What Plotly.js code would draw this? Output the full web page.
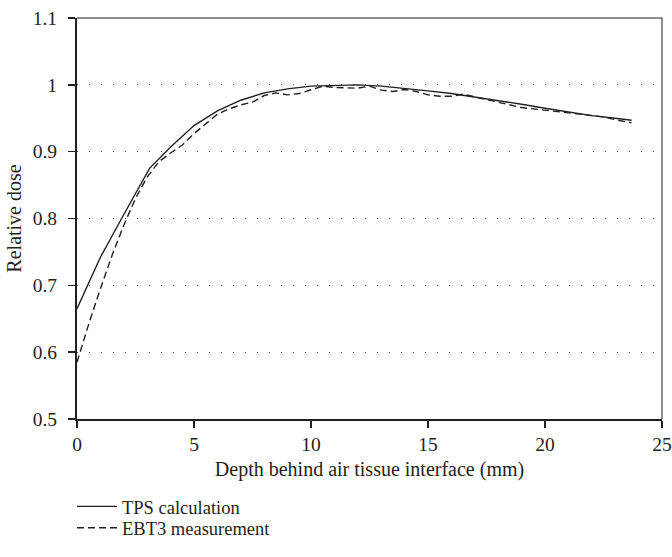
<!DOCTYPE html>
<html>
<head>
<meta charset="utf-8">
<script src="https://cdn.plot.ly/plotly-3.0.1.min.js"></script>
<style>
html,body{margin:0;padding:0;background:#fff;}
#chart{width:672px;height:557px;}
</style>
</head>
<body>
<div id="chart"></div>
<script>
// TPS calculation
const tpsDepth = [0, 1, 2, 3.1, 4, 5, 6, 7, 8, 9, 10, 11, 12, 13, 14, 15, 16, 17, 18, 19, 20, 21, 22, 23, 23.7];
const tpsDose  = [0.665, 0.742, 0.806, 0.875, 0.907, 0.939, 0.961, 0.977, 0.988, 0.994, 0.998, 0.999, 1.000, 0.998, 0.995, 0.991, 0.987, 0.982, 0.977, 0.971, 0.965, 0.959, 0.954, 0.950, 0.947];

// EBT3 measurement
const ebtDepth = [0, 0.5, 1.0, 1.5, 2.0, 2.5, 3.0, 3.5, 4.0, 4.5, 5.0, 5.5, 6.0, 6.5, 7.0, 7.5, 8.0, 8.5, 9.0, 9.5, 10.0, 10.5, 11.0, 11.5, 12.0, 12.5, 13.0, 13.5, 14.0, 14.5, 15.0, 15.5, 16.0, 16.5, 17.0, 17.5, 18.0, 18.5, 19.0, 19.5, 20.0, 20.5, 21.0, 21.5, 22.0, 22.5, 23.0, 23.7];
const ebtDose  = [0.585, 0.642, 0.695, 0.745, 0.790, 0.830, 0.862, 0.885, 0.898, 0.910, 0.927, 0.942, 0.956, 0.964, 0.970, 0.974, 0.984, 0.988, 0.985, 0.987, 0.993, 0.998, 0.996, 0.996, 0.995, 0.998, 0.992, 0.990, 0.993, 0.990, 0.985, 0.983, 0.983, 0.986, 0.982, 0.978, 0.974, 0.969, 0.966, 0.964, 0.962, 0.961, 0.959, 0.957, 0.955, 0.952, 0.948, 0.943];

const seriesNames = ["TPS calculation", "EBT3 measurement"];
const xTicks = [0, 5, 10, 15, 20, 25];
const yTicks = [0.5, 0.6, 0.7, 0.8, 0.9, 1, 1.1];
const yTickText = ["0.5", "0.6", "0.7", "0.8", "0.9", "1", "1.1"];

const ink = "#231f20";
const fam = "Liberation Serif";
const tickFont = {family: fam, size: 19.5, color: ink};
const titleFont = {family: fam, size: 20, color: ink};
const legFont = {family: fam, size: 18.5, color: ink};

const traces = [
  {x: tpsDepth, y: tpsDose, name: seriesNames[0], type: "scatter", mode: "lines",
   line: {color: ink, width: 1.4}, legend: "legend"},
  {x: ebtDepth, y: ebtDose, name: seriesNames[1], type: "scatter", mode: "lines",
   line: {color: ink, width: 1.4, dash: "7px,4px"}, legend: "legend2"}
];

const legBase = {xanchor: "left", yanchor: "middle", orientation: "v",
                 font: legFont, bgcolor: "rgba(0,0,0,0)", itemwidth: 40};

const layout = {
  width: 672, height: 557,
  margin: {l: 77, r: 10, t: 18, b: 128},
  paper_bgcolor: "#fff", plot_bgcolor: "#fff",
  font: {family: fam, size: 19, color: ink},
  showlegend: true,
  legend: Object.assign({x: -0.0085, y: -0.219}, legBase),
  legend2: Object.assign({x: -0.0085, y: -0.2725}, legBase),
  xaxis: {range: [0, 25], tickvals: xTicks, ticks: "outside", ticklen: 7, tickwidth: 1.5,
          tickcolor: ink, showline: true, linecolor: ink, linewidth: 2, showgrid: false,
          zeroline: false, tickfont: tickFont,
          title: {text: "Depth behind air tissue interface (mm)", font: titleFont, standoff: 8}},
  yaxis: {range: [0.5, 1.1], tickvals: yTicks, ticktext: yTickText, ticks: "outside", ticklen: 7,
          tickwidth: 1.5, tickcolor: ink, showline: true, linecolor: ink, linewidth: 2,
          ticklabelstandoff: 7,
          showgrid: true, gridcolor: "#555", gridwidth: 1, griddash: "1px,11px",
          zeroline: false, tickfont: tickFont,
          title: {text: "Relative dose", font: titleFont, standoff: 6}},
  shapes: [
    {type: "line", xref: "paper", yref: "paper", x0: 0, x1: 1, y0: 1, y1: 1, line: {color: ink, width: 1}},
    {type: "line", xref: "paper", yref: "paper", x0: 1, x1: 1, y0: 0, y1: 1, line: {color: ink, width: 1}}
  ]
};

Plotly.newPlot("chart", traces, layout, {displayModeBar: false, staticPlot: true});
</script>
</body>
</html>
